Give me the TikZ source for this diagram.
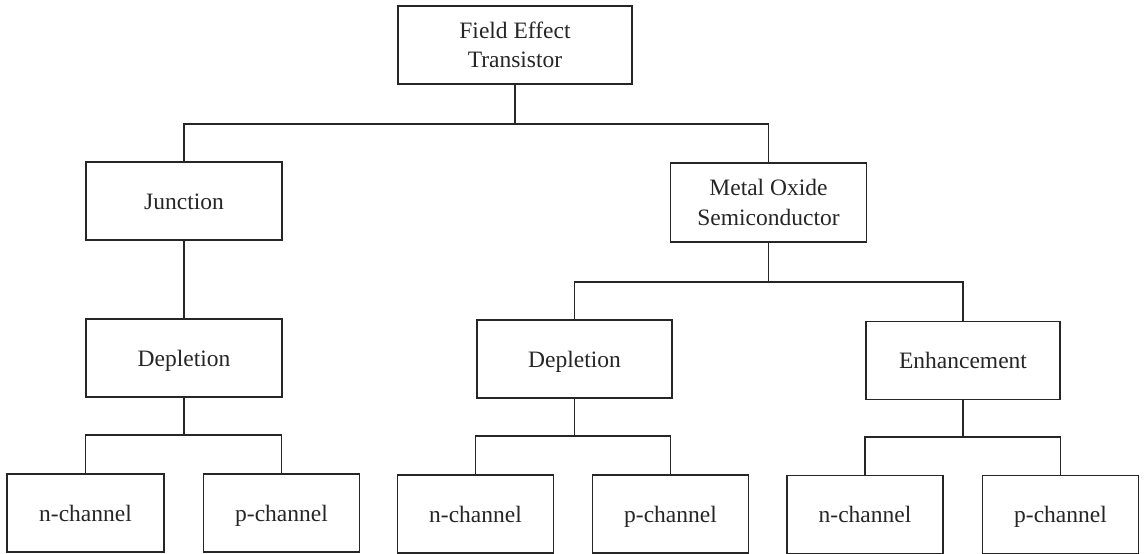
\documentclass[tikz,border=0pt]{standalone}
\usepackage{fontspec}
\setmainfont{Liberation Serif}
\begin{document}
\begin{tikzpicture}[x=1pt,y=-1pt,
  box/.style={draw=black!85, line width=1.7pt, minimum height=78pt, inner sep=0pt, align=center,
    text=black!85, font=\fontsize{23.5}{29.5}\selectfont},
  one/.style={text height=18pt, text depth=2pt},
  wide/.style={box, one, minimum width=196pt},
  small/.style={box, one, minimum width=156pt},
  link/.style={draw=black!85, line width=1.7pt}]
\useasboundingbox (0,0) rectangle (1146,554);
\node[box, minimum width=234pt] (fet) at (515,45) {Field Effect\\Transistor};
\node[wide] (junc) at (184,201) {Junction};
\node[box, minimum width=196pt, minimum height=79pt] (mos) at (768.5,202.5) {Metal Oxide\\Semiconductor};
\node[wide] (depl) at (184,358) {Depletion};
\node[wide, minimum width=195pt] (depm) at (574.5,359) {Depletion};
\node[wide, minimum width=194pt] (enh) at (963,360.5) {Enhancement};
\node[small, minimum width=157pt] (n1) at (85.5,513) {n-channel};
\node[small] (p1) at (281.5,513) {p-channel};
\node[small] (n2) at (475.5,514) {n-channel};
\node[small] (p2) at (670.5,514) {p-channel};
\node[small] (n3) at (865,514.5) {n-channel};
\node[small] (p3) at (1060.5,514.5) {p-channel};
\coordinate (b1) at (0,124);
\coordinate (b2) at (0,282);
\coordinate (b3) at (0,435);
\coordinate (b4) at (0,436);
\coordinate (b5) at (0,437);
\draw[link] (fet.south) -- (fet.south |- b1);
\draw[link] (junc.north) |- (mos.north |- b1) -- (mos.north);
\draw[link] (junc.south) -- (depl.north);
\draw[link] (mos.south) -- (mos.south |- b2);
\draw[link] (depm.north) |- (enh.north |- b2) -- (enh.north);
\draw[link] (depl.south) -- (depl.south |- b3);
\draw[link] (n1.north) |- (p1.north |- b3) -- (p1.north);
\draw[link] (depm.south) -- (depm.south |- b4);
\draw[link] (n2.north) |- (p2.north |- b4) -- (p2.north);
\draw[link] (enh.south) -- (enh.south |- b5);
\draw[link] (n3.north) |- (p3.north |- b5) -- (p3.north);
\end{tikzpicture}
\end{document}
